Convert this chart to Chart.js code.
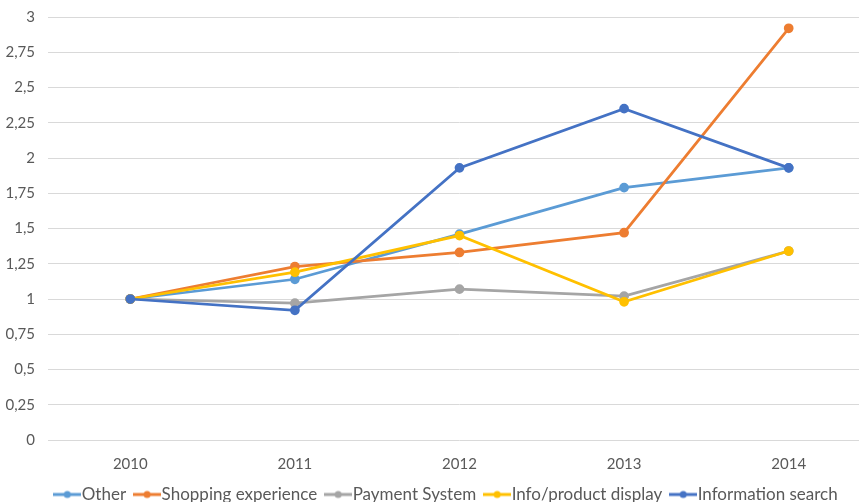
<!DOCTYPE html>
<html>
<head>
<meta charset="utf-8">
<script src="https://cdn.jsdelivr.net/npm/chart.js@4"></script>
<style>
  body { margin: 0; background: #fff; }
  #wrap { width: 859px; height: 502px; overflow: hidden; position: relative; }
  #box { width: 880px; height: 513px; }
</style>
</head>
<body>
<div id="wrap"><div id="box"><canvas id="grafico"></canvas></div></div>
<script>
// Datos del gráfico
const anios = ['2010', '2011', '2012', '2013', '2014'];
const series = ['Other', 'Shopping experience', 'Payment System', 'Info/product display', 'Information search'];
const other = [1, 1.14, 1.46, 1.79, 1.93];
const shopping = [1, 1.23, 1.33, 1.47, 2.92];
const payment = [1, 0.97, 1.07, 1.02, 1.34];
const infoDisplay = [1, 1.19, 1.45, 0.98, 1.34];
const infoSearch = [1, 0.92, 1.93, 2.35, 1.93];
const colores = ['#5B9BD5', '#ED7D31', '#A5A5A5', '#FFC000', '#4472C4'];

const valores = [other, shopping, payment, infoDisplay, infoSearch];
const gris = '#595959';

// Marcador de la leyenda: línea con punto
function marcador(color) {
    const c = document.createElement('canvas');
    c.width = 28;
    c.height = 10;
    const g = c.getContext('2d');
    g.strokeStyle = color;
    g.lineWidth = 3;
    g.beginPath();
    g.moveTo(0, 5);
    g.lineTo(28, 5);
    g.stroke();
    g.fillStyle = color;
    g.beginPath();
    g.arc(14, 5, 3.5, 0, Math.PI * 2);
    g.fill();
    return c;
}

// Desplaza la leyenda un poco a la derecha, como en el original
const moverLeyenda = {
    id: 'moverLeyenda',
    afterLayout(chart) {
        chart.legend.left += 14;
        chart.legend.right += 14;
    }
};

const datasets = series.map((nombre, i) => ({
    label: nombre,
    data: valores[i],
    borderColor: colores[i],
    backgroundColor: colores[i],
    borderWidth: 2.75,
    pointRadius: 3.5,
    pointHoverRadius: 3.5,
    tension: 0,
    order: series.length - 1 - i
}));

const ctx = document.getElementById('grafico').getContext('2d');
const grafico = new Chart(ctx, {
    type: 'line',
    data: { labels: anios, datasets: datasets },
    plugins: [moverLeyenda],
    options: {
        responsive: true,
        maintainAspectRatio: false,
        animation: false,
        layout: { padding: { top: 17, right: 9, left: 0, bottom: 0 } },
        scales: {
            x: {
                offset: true,
                grid: { display: false },
                border: { display: false },
                ticks: { color: gris, font: { family: 'Lato', size: 15 }, padding: 7, maxRotation: 0 },
                afterFit: (s) => { s.height = 31; }
            },
            y: {
                min: 0,
                max: 3,
                grid: { color: '#D9D9D9', lineWidth: 1, drawTicks: true, tickLength: 13, tickColor: 'rgba(0,0,0,0)' },
                border: { display: false },
                ticks: {
                    stepSize: 0.25,
                    color: gris,
                    padding: 0,
                    font: { family: 'Lato', size: 15 },
                    callback: (v) => String(v).replace('.', ',')
                },
                afterFit: (s) => { s.width = 48; }
            }
        },
        plugins: {
            tooltip: { enabled: false },
            legend: {
                position: 'bottom',
                labels: {
                    color: gris,
                    font: { family: 'Lato', size: 17 },
                    usePointStyle: true,
                    pointStyleWidth: 12,
                    padding: 15,
                    generateLabels: (chart) => chart.data.datasets.map((d, i) => ({
                        text: d.label,
                        fillStyle: d.borderColor,
                        strokeStyle: d.borderColor,
                        fontColor: gris,
                        lineWidth: 0,
                        pointStyle: marcador(d.borderColor),
                        datasetIndex: i,
                        hidden: false
                    }))
                }
            }
        }
    }
});
</script>
</body>
</html>
